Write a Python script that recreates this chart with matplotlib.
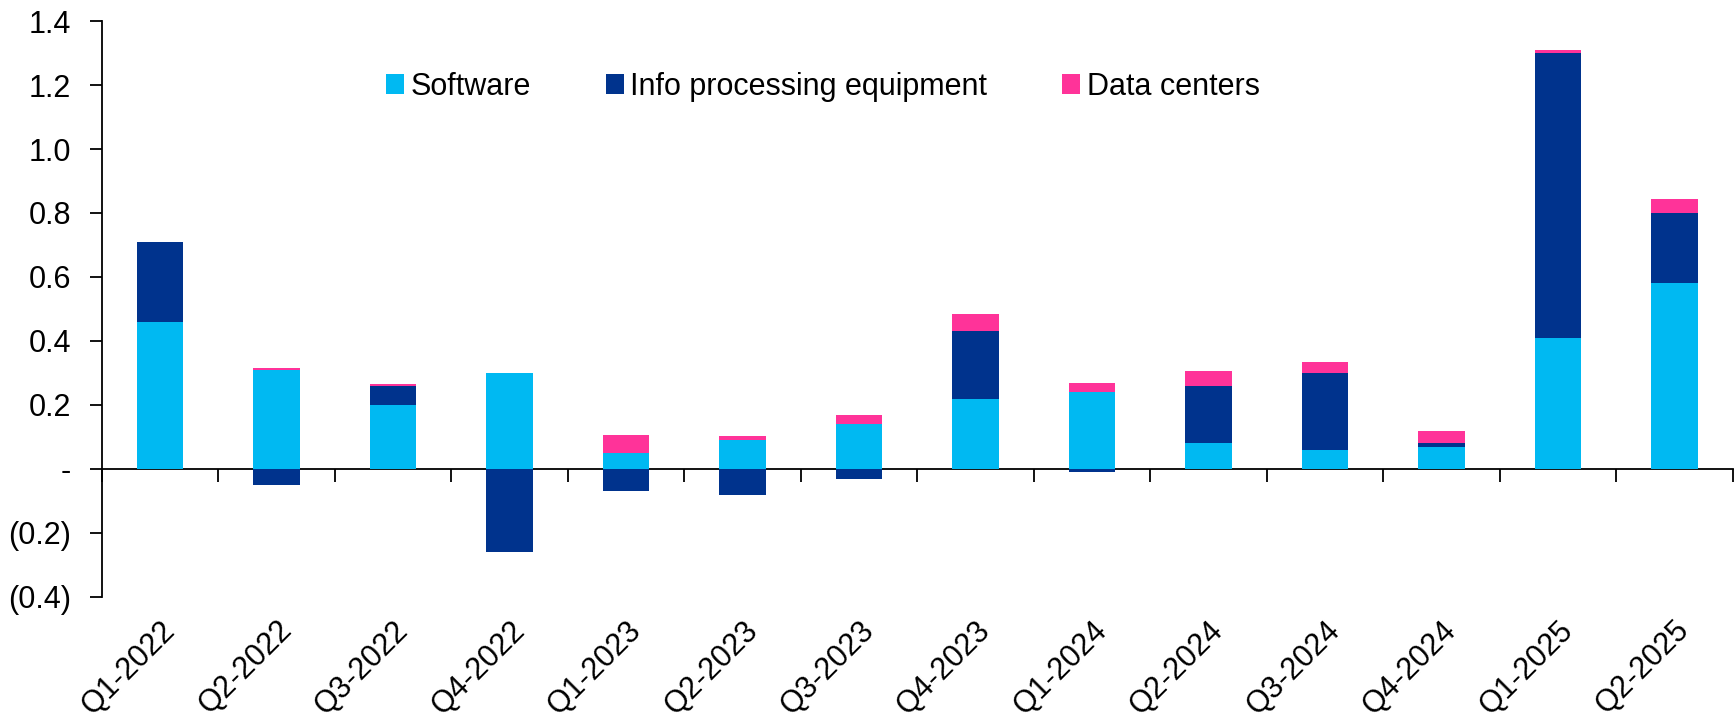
import matplotlib.pyplot as plt
import numpy as np
from matplotlib.ticker import FuncFormatter, FixedLocator

quarters = ["Q1-2022", "Q2-2022", "Q3-2022", "Q4-2022",
            "Q1-2023", "Q2-2023", "Q3-2023", "Q4-2023",
            "Q1-2024", "Q2-2024", "Q3-2024", "Q4-2024",
            "Q1-2025", "Q2-2025"]
software = [0.46, 0.31, 0.20, 0.30, 0.05, 0.09, 0.14, 0.22, 0.24, 0.08, 0.06, 0.07, 0.41, 0.58]
info_equip = [0.25, -0.05, 0.06, -0.26, -0.07, -0.08, -0.03, 0.21, -0.01, 0.18, 0.24, 0.01, 0.89, 0.22]
data_centers = [0.0, 0.006, 0.006, 0.0, 0.057, 0.013, 0.03, 0.053, 0.028, 0.047, 0.035, 0.04, 0.01, 0.045]

series = [("Software", software, "#00B9F2"),
          ("Info processing equipment", info_equip, "#00338D"),
          ("Data centers", data_centers, "#FF3399")]

plt.rcParams["font.family"] = ["Liberation Sans", "DejaVu Sans"]

fig = plt.figure(figsize=(17.36, 7.17), dpi=100)
ax = fig.add_axes([0.0587, 0.1674, 0.9393, 0.8033])

x = np.arange(len(quarters))
pos_base = np.zeros(len(quarters))
neg_base = np.zeros(len(quarters))
for name, vals, color in series:
    vals = np.array(vals)
    bottom = np.where(vals >= 0, pos_base, neg_base)
    ax.bar(x, vals, width=0.4, bottom=bottom, color=color, label=name, zorder=2)
    pos_base = pos_base + np.where(vals >= 0, vals, 0)
    neg_base = neg_base + np.where(vals < 0, vals, 0)

ax.set_xlim(-0.5, len(quarters) - 0.5)
ax.set_ylim(-0.4, 1.4)
ax.set_yticks(np.arange(-0.4, 1.41, 0.2))


def fmt(v, pos):
    if abs(v) < 1e-9:
        return "-"
    if v < 0:
        return "({:.1f})".format(-v)
    return "{:.1f}".format(v)


ax.yaxis.set_major_formatter(FuncFormatter(fmt))
ax.tick_params(axis="y", direction="out", length=9, width=1.3, labelsize=22, pad=13)

for s in ["top", "right", "bottom"]:
    ax.spines[s].set_visible(False)
ax.spines["left"].set_linewidth(1.3)

# category labels at the bottom
ax.set_xticks(x)
ax.set_xticklabels(quarters, rotation=45, ha="right", va="top", rotation_mode="anchor")
ax.tick_params(axis="x", length=0, labelsize=22, pad=13)

# zero line with boundary ticks
zero = ax.secondary_xaxis(0.4 / 1.8)
zero.xaxis.set_major_locator(FixedLocator(np.arange(-0.5, len(quarters), 1.0)))
zero.tick_params(axis="x", direction="out", length=9, width=1.3, labelbottom=False)
zero.spines["bottom"].set_linewidth(1.3)

ax.legend(loc="center", bbox_to_anchor=(0.474, 0.879), bbox_transform=fig.transFigure,
          ncol=3, frameon=False, fontsize=22, handlelength=0.6, handleheight=0.6,
          handletextpad=0.2, columnspacing=2.45)

fig.savefig("out.png", dpi=100)
